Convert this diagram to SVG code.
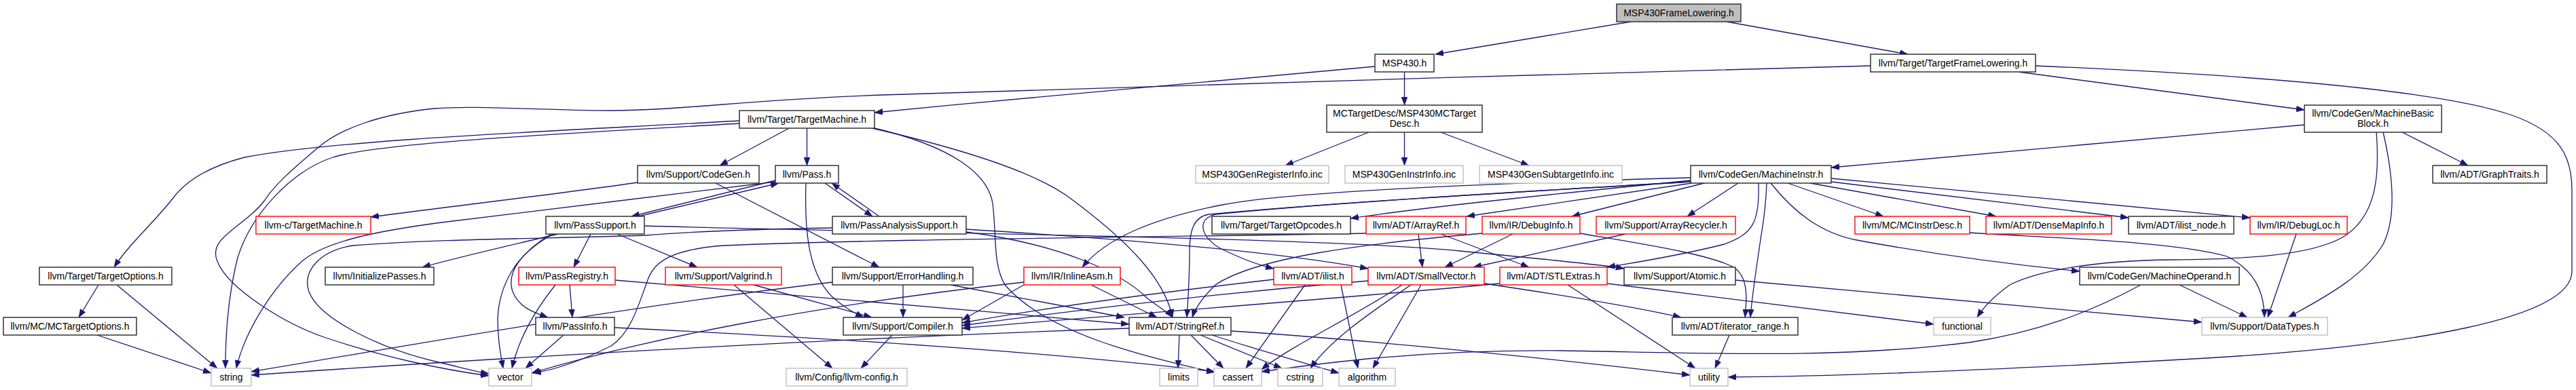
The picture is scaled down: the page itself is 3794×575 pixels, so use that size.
<svg xmlns="http://www.w3.org/2000/svg" width="3794" height="575" viewBox="0 0 3794 575">
<style>
.n rect{fill:#fff;stroke:#333;stroke-width:1.5}
.r rect{fill:#fff;stroke:#ff0000;stroke-width:1.4}
.g rect{fill:#fff;stroke:#bfbfbf;stroke-width:1.4}
.root rect{fill:#bfbfbf;stroke:#333;stroke-width:1.5}
text{font-family:"Liberation Sans",Arial,sans-serif;font-size:14px;fill:#000;text-anchor:middle}
#edges path{fill:none;stroke:#191970;stroke-width:1.3;marker-end:url(#ah)}
</style>
<defs>
<marker id="ah" markerUnits="userSpaceOnUse" markerWidth="13" markerHeight="10" refX="12" refY="4.5" orient="auto">
<path d="M0,0 L12,4.5 L0,9 z" fill="#191970" stroke="#191970" stroke-width="0.5"/>
</marker>
</defs>
<rect width="3794" height="575" fill="#fff"/>
<g id="edges">
<path d="M2402,32 L2114,80"/>
<path d="M2543,32 L2810,80"/>
<path d="M2068.5,106 L2068.5,155"/>
<path d="M2025,98 C1950,103 1600,135 1288,166"/>
<path d="M2016,195 L1893,244"/>
<path d="M2068.5,195 L2068.5,244"/>
<path d="M2122,195 L2252,244"/>
<path d="M2973,106 L3394,162"/>
<path d="M2998,97 C3350,112 3600,135 3700,170 C3770,195 3788,230 3788,280 L3788,400 C3788,470 3550,510 3250,528 C2950,545 2700,555 2545,556"/>
<path d="M2755,97 C2300,108 1700,128 1300,140 C1100,147 1000,163 900,163 C800,163 700,155 640,160 C560,168 500,190 468,218 C430,250 405,272 390,295 C360,335 305,350 320,385 C335,425 420,478 480,498 C560,525 650,545 720,554"/>
<path d="M1164,188 L1060,244"/>
<path d="M1188.5,188 L1188.5,244"/>
<path d="M1089,178 C850,192 500,205 360,232 C310,245 275,265 255,292 C225,330 190,360 168,394"/>
<path d="M1089,182 C820,198 560,210 490,232 C430,252 370,315 350,380 C335,440 332,500 332,543"/>
<path d="M1284,188 C1400,215 1455,255 1462,300 C1468,345 1462,390 1480,420 C1540,490 1680,525 1789,549"/>
<path d="M1280,188 C1420,220 1530,255 1580,295 C1660,355 1715,410 1727,468"/>
<path d="M939,269 C830,285 650,306 546,320"/>
<path d="M1054,270 L1295,394"/>
<path d="M1142,266 L930,319"/>
<path d="M940,319 L1147,270"/>
<path d="M1215,270 L1285,319"/>
<path d="M1295,319 L1225,270"/>
<path d="M1142,268 C1000,285 760,315 650,328 C560,340 480,355 445,385 C400,425 360,490 348,543"/>
<path d="M1187,270 C1185,330 1188,400 1225,437 C1245,455 1260,462 1272,468"/>
<path d="M822,345 C750,362 680,378 622,394"/>
<path d="M870,345 L845,394"/>
<path d="M909,345 L1027,394"/>
<path d="M815,345 C770,370 745,400 755,430 C765,455 790,462 807,468"/>
<path d="M812,345 C760,375 735,420 733,470 C733,500 737,520 741,543"/>
<path d="M948,333 C1300,343 1950,350 2150,370 C2280,383 2360,390 2392,396"/>
<path d="M1226,336 C1100,338 1000,343 950,347 C800,352 650,352 520,362 C470,370 445,400 455,430 C470,470 560,515 650,535 C680,542 700,548 720,551"/>
<path d="M1423,342 C1560,360 1650,400 1690,440 C1710,455 1722,462 1727,468"/>
<path d="M1423,338 C1700,355 1900,375 2015,396"/>
<path d="M839,420 L843,468"/>
<path d="M818,420 C790,455 765,495 754,543"/>
<path d="M906,413 C1100,428 1400,455 1663,478"/>
<path d="M1081,420 L1226,543"/>
<path d="M1110,420 L1284,468"/>
<path d="M1330,420 L1330,468"/>
<path d="M1400,420 L1656,468"/>
<path d="M1226,416 C900,455 600,510 370,548"/>
<path d="M1314,494 L1268,543"/>
<path d="M1607,420 L1704,468"/>
<path d="M1508,420 L1417,472"/>
<path d="M1508,416 C1200,450 950,500 783,550"/>
<path d="M1663,484 C1200,500 700,530 370,553"/>
<path d="M1737,494 L1735,543"/>
<path d="M1754,494 L1802,543"/>
<path d="M1768,494 L1888,543"/>
<path d="M1785,494 C1850,515 1920,535 1972,550"/>
<path d="M1813,488 C2000,500 2300,530 2489,553"/>
<path d="M145,420 L116,468"/>
<path d="M172,420 L320,543"/>
<path d="M143,494 L311,550"/>
<path d="M830,494 L774,543"/>
<path d="M905,483 C1300,502 1600,525 1789,548"/>
<path d="M2490,266 C2300,285 2100,305 1989,322"/>
<path d="M2492,270 L2160,319"/>
<path d="M2510,270 L2315,319"/>
<path d="M2560,270 L2485,319"/>
<path d="M2633,270 L2774,319"/>
<path d="M2666,270 L2940,319"/>
<path d="M2697,268 L3135,321"/>
<path d="M2697,263 L3314,321"/>
<path d="M2608,270 C2640,310 2680,345 2740,355 C2850,375 2960,390 3063,400"/>
<path d="M2490,262 C2200,270 1900,282 1800,302 C1700,322 1630,350 1594,394"/>
<path d="M2490,268 C2200,285 1950,300 1780,316 C1758,320 1752,340 1752,370 C1752,410 1750,440 1748,468"/>
<path d="M2490,268 C2200,285 1950,300 1790,316 C1765,322 1765,345 1795,365 C1825,380 1850,390 1876,396"/>
<path d="M2590,270 C2592,330 2580,345 2540,360 C2460,380 2400,388 2367,394"/>
<path d="M2602,270 C2600,320 2596,330 2592,360 C2586,400 2580,440 2578,468"/>
<path d="M2327,344 C2420,360 2520,375 2555,395 C2575,410 2573,440 2570,468"/>
<path d="M2228,345 L2128,394"/>
<path d="M2183,344 C2000,360 1850,380 1790,420 C1770,440 1760,455 1756,468"/>
<path d="M2089,345 L2095,394"/>
<path d="M2122,345 L2252,394"/>
<path d="M2012,344 C1700,350 1300,352 1065,362 C990,368 965,385 955,410 C940,450 930,490 900,510 C860,530 820,545 785,550"/>
<path d="M2394,345 L2170,394"/>
<path d="M2093,420 L2022,543"/>
<path d="M2078,420 C2020,460 1960,500 1930,543"/>
<path d="M2065,420 C1990,470 1900,510 1858,545"/>
<path d="M2015,414 C1800,432 1600,455 1417,480"/>
<path d="M2186,418 C2300,435 2420,455 2476,468"/>
<path d="M2367,418 L2848,478"/>
<path d="M2309,420 L2497,543"/>
<path d="M2209,418 C2000,438 1700,460 1417,484"/>
<path d="M1975,420 L2000,543"/>
<path d="M1922,420 L1835,543"/>
<path d="M1876,412 C1700,432 1550,452 1417,476"/>
<path d="M2547,494 L2526,543"/>
<path d="M2556,413 L3243,475"/>
<path d="M3394,184 L2697,247"/>
<path d="M3538,195 L3635,244"/>
<path d="M3500,195 C3505,260 3500,320 3450,350 C3400,378 3300,382 3200,383 C3080,384 3000,400 2960,420 C2935,438 2920,455 2912,468"/>
<path d="M3510,195 C3525,260 3530,320 3510,360 C3480,410 3420,440 3370,468"/>
<path d="M3210,420 L3310,468"/>
<path d="M3153,420 C3080,460 3000,490 2900,505 C2700,530 2500,520 2300,517 C2100,515 1950,535 1858,548"/>
<path d="M3382,345 L3340,468"/>
<path d="M2901,343 C3000,350 3200,355 3280,378 C3320,398 3335,430 3335,468"/>
</g>
<g id="n0" class="root"><rect x="2381" y="6" width="183" height="26"/><text x="2472.5" y="24">MSP430FrameLowering.h</text></g>
<g id="n1" class="n"><rect x="2025" y="80" width="87" height="26"/><text x="2068.5" y="98">MSP430.h</text></g>
<g id="n2" class="n"><rect x="2755" y="80" width="243" height="26"/><text x="2876.5" y="98">llvm/Target/TargetFrameLowering.h</text></g>
<g id="n3" class="n"><rect x="1954" y="155" width="229" height="40"/><text x="2068.5" y="172">MCTargetDesc/MSP430MCTarget</text><text x="2068.5" y="187">Desc.h</text></g>
<g id="n4" class="n"><rect x="1089" y="163" width="199" height="26"/><text x="1188.5" y="181">llvm/Target/TargetMachine.h</text></g>
<g id="n5" class="n"><rect x="3394" y="155" width="202" height="40"/><text x="3495" y="172">llvm/CodeGen/MachineBasic</text><text x="3495" y="187">Block.h</text></g>
<g id="n6" class="g"><rect x="1761" y="244" width="196" height="26"/><text x="1859" y="262">MSP430GenRegisterInfo.inc</text></g>
<g id="n7" class="g"><rect x="1981" y="244" width="174" height="26"/><text x="2068" y="262">MSP430GenInstrInfo.inc</text></g>
<g id="n8" class="g"><rect x="2179" y="244" width="210" height="26"/><text x="2284" y="262">MSP430GenSubtargetInfo.inc</text></g>
<g id="n9" class="n"><rect x="939" y="244" width="179" height="26"/><text x="1028.5" y="262">llvm/Support/CodeGen.h</text></g>
<g id="n10" class="n"><rect x="1142" y="244" width="93" height="26"/><text x="1188.5" y="262">llvm/Pass.h</text></g>
<g id="n11" class="n"><rect x="2490" y="244" width="207" height="26"/><text x="2593.5" y="262">llvm/CodeGen/MachineInstr.h</text></g>
<g id="n12" class="n"><rect x="3583" y="244" width="168" height="26"/><text x="3667" y="262">llvm/ADT/GraphTraits.h</text></g>
<g id="n13" class="r"><rect x="377" y="319" width="169" height="26"/><text x="461.5" y="337">llvm-c/TargetMachine.h</text></g>
<g id="n14" class="n"><rect x="804" y="319" width="145" height="26"/><text x="876.5" y="337">llvm/PassSupport.h</text></g>
<g id="n15" class="n"><rect x="1226" y="319" width="197" height="26"/><text x="1324.5" y="337">llvm/PassAnalysisSupport.h</text></g>
<g id="n16" class="n"><rect x="1785" y="319" width="204" height="26"/><text x="1887" y="337">llvm/Target/TargetOpcodes.h</text></g>
<g id="n17" class="r"><rect x="2012" y="319" width="147" height="26"/><text x="2085.5" y="337">llvm/ADT/ArrayRef.h</text></g>
<g id="n18" class="r"><rect x="2183" y="319" width="144" height="26"/><text x="2255" y="337">llvm/IR/DebugInfo.h</text></g>
<g id="n19" class="r"><rect x="2351" y="319" width="205" height="26"/><text x="2453.5" y="337">llvm/Support/ArrayRecycler.h</text></g>
<g id="n20" class="r"><rect x="2732" y="319" width="169" height="26"/><text x="2816.5" y="337">llvm/MC/MCInstrDesc.h</text></g>
<g id="n21" class="r"><rect x="2925" y="319" width="185" height="26"/><text x="3017.5" y="337">llvm/ADT/DenseMapInfo.h</text></g>
<g id="n22" class="n"><rect x="3135" y="319" width="155" height="26"/><text x="3212.5" y="337">llvm/ADT/ilist_node.h</text></g>
<g id="n23" class="r"><rect x="3314" y="319" width="143" height="26"/><text x="3385.5" y="337">llvm/IR/DebugLoc.h</text></g>
<g id="n24" class="n"><rect x="58" y="394" width="195" height="26"/><text x="155.5" y="412">llvm/Target/TargetOptions.h</text></g>
<g id="n25" class="n"><rect x="479" y="394" width="160" height="26"/><text x="559" y="412">llvm/InitializePasses.h</text></g>
<g id="n26" class="r"><rect x="764" y="394" width="142" height="26"/><text x="835" y="412">llvm/PassRegistry.h</text></g>
<g id="n27" class="r"><rect x="980" y="394" width="171" height="26"/><text x="1065.5" y="412">llvm/Support/Valgrind.h</text></g>
<g id="n28" class="n"><rect x="1226" y="394" width="207" height="26"/><text x="1329.5" y="412">llvm/Support/ErrorHandling.h</text></g>
<g id="n29" class="r"><rect x="1508" y="394" width="142" height="26"/><text x="1579" y="412">llvm/IR/InlineAsm.h</text></g>
<g id="n30" class="r"><rect x="1876" y="394" width="115" height="26"/><text x="1933.5" y="412">llvm/ADT/ilist.h</text></g>
<g id="n31" class="r"><rect x="2015" y="394" width="171" height="26"/><text x="2100.5" y="412">llvm/ADT/SmallVector.h</text></g>
<g id="n32" class="r"><rect x="2209" y="394" width="158" height="26"/><text x="2288" y="412">llvm/ADT/STLExtras.h</text></g>
<g id="n33" class="n"><rect x="2392" y="394" width="164" height="26"/><text x="2474" y="412">llvm/Support/Atomic.h</text></g>
<g id="n34" class="n"><rect x="3063" y="394" width="235" height="26"/><text x="3180.5" y="412">llvm/CodeGen/MachineOperand.h</text></g>
<g id="n35" class="n"><rect x="5" y="468" width="196" height="26"/><text x="103" y="486">llvm/MC/MCTargetOptions.h</text></g>
<g id="n36" class="n"><rect x="789" y="468" width="116" height="26"/><text x="847" y="486">llvm/PassInfo.h</text></g>
<g id="n37" class="n"><rect x="1242" y="468" width="175" height="26"/><text x="1329.5" y="486">llvm/Support/Compiler.h</text></g>
<g id="n38" class="n"><rect x="1663" y="468" width="150" height="26"/><text x="1738" y="486">llvm/ADT/StringRef.h</text></g>
<g id="n39" class="n"><rect x="2463" y="468" width="185" height="26"/><text x="2555.5" y="486">llvm/ADT/iterator_range.h</text></g>
<g id="n40" class="g"><rect x="2848" y="468" width="84" height="26"/><text x="2890" y="486">functional</text></g>
<g id="n41" class="g"><rect x="3243" y="468" width="185" height="26"/><text x="3335.5" y="486">llvm/Support/DataTypes.h</text></g>
<g id="n42" class="g"><rect x="311" y="543" width="59" height="26"/><text x="340.5" y="561">string</text></g>
<g id="n43" class="g"><rect x="720" y="543" width="63" height="26"/><text x="751.5" y="561">vector</text></g>
<g id="n44" class="g"><rect x="1158" y="543" width="178" height="26"/><text x="1247" y="561">llvm/Config/llvm-config.h</text></g>
<g id="n45" class="g"><rect x="1708" y="543" width="56" height="26"/><text x="1736" y="561">limits</text></g>
<g id="n46" class="g"><rect x="1788" y="543" width="70" height="26"/><text x="1823" y="561">cassert</text></g>
<g id="n47" class="g"><rect x="1882" y="543" width="66" height="26"/><text x="1915" y="561">cstring</text></g>
<g id="n48" class="g"><rect x="1972" y="543" width="83" height="26"/><text x="2013.5" y="561">algorithm</text></g>
<g id="n49" class="g"><rect x="2489" y="543" width="56" height="26"/><text x="2517" y="561">utility</text></g>
</svg>
